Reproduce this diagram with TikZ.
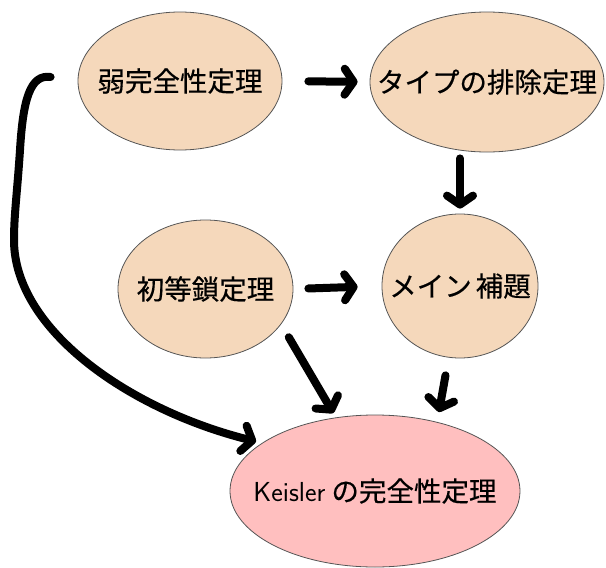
\documentclass[tikz,border=0pt]{standalone}
\usepackage{fontspec}
\setmainfont{Noto Sans CJK JP}[FakeBold=0.4]
\usetikzlibrary{shapes.geometric,arrows.meta,calc}
\definecolor{peach}{HTML}{F5D8BB}
\definecolor{pinkish}{HTML}{FFBFBF}
\definecolor{rim}{HTML}{555555}
\newcommand{\lbl}[1]{\makebox[0pt][c]{#1}}
\tikzset{
  ell/.style={ellipse, draw=rim, line width=0.8pt, fill=peach, inner sep=0pt,
    font=\fontsize{27.5}{30}\selectfont},
  kell/.style={ell, fill=pinkish},
  arr/.style={line width=8pt, line cap=round, line join=round,
    -{Straight Barb[length=9pt,width=26pt,round]}},
}
\begin{document}
\begin{tikzpicture}[x=1pt,y=1pt]
\useasboundingbox (0,0) rectangle (606,-568);
\node[ell, minimum width=204, minimum height=138] (jaku) at (180,-81) {\lbl{弱完全性定理}};
\node[ell, minimum width=234, minimum height=140] (typ) at (487,-82) {\lbl{タイプの排除定理}};
\node[ell, minimum width=175, minimum height=138] (shoto) at (205.5,-289) {\lbl{初等鎖定理}};
\node[ell, minimum width=156, minimum height=144] (mein) at (460,-286) {\lbl{メイン\hspace{4pt}補題}};
\node[kell, minimum width=290, minimum height=152] (kei) at (375,-491) {\lbl{{\sffamily Keisler} の完全性定理}};
\coordinate (cstart) at ($(jaku.west)+(-27,4)$);
\draw[arr, shorten <=26pt, shorten >=12pt] (jaku.east) -- (typ.west);
\draw[arr, shorten <=6pt, shorten >=5pt] (typ.south -| mein.north) -- (mein.north);
\draw[arr, shorten <=15pt, shorten >=24pt] (shoto.east) -- (mein.west);
\draw[arr, shorten <=15pt, shorten >=5pt] (shoto.-25) -- (kei.118);
\draw[arr, shorten <=18pt, shorten >=10pt] (mein.-99) -- (kei.48);
\draw[arr, shorten >=6pt] (cstart)
  .. controls (30,-74) and (23,-100) .. (20,-150)
  .. controls (17,-195) and (14,-215) .. (14,-240)
  .. controls (14,-330) and (130,-410) .. (kei.157);
\end{tikzpicture}
\end{document}
